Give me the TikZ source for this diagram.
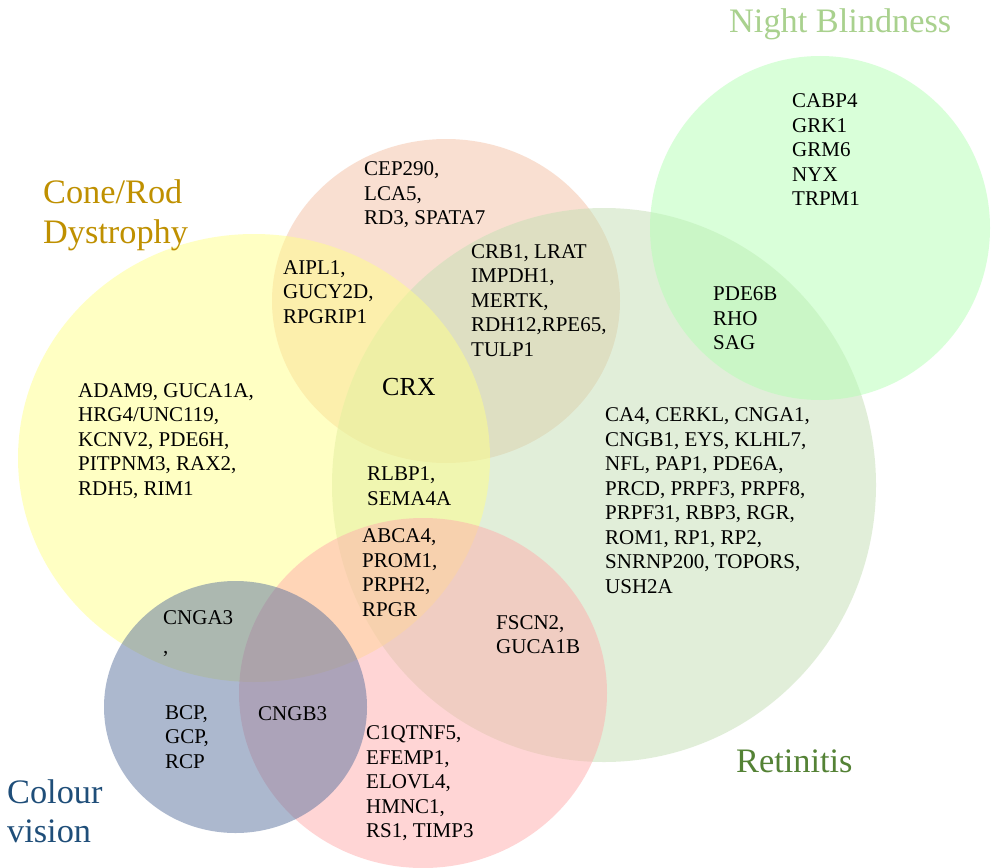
\documentclass[tikz,border=0pt]{standalone}
\usepackage{fontspec}
\setmainfont{Liberation Serif}
\definecolor{cPeach}{RGB}{245,193,165}
\definecolor{cGreen}{RGB}{197,223,181}
\definecolor{cNight}{RGB}{181,255,181}
\definecolor{cYellow}{RGB}{255,255,137}
\definecolor{cPink}{RGB}{255,173,173}
\definecolor{cBlue}{RGB}{91,115,159}
\definecolor{tGold}{RGB}{191,144,0}
\definecolor{tLight}{RGB}{169,209,142}
\definecolor{tGreen}{RGB}{84,130,53}
\definecolor{tBlue}{RGB}{31,78,121}
\tikzset{
  setc/.style={draw=none, fill=#1, fill opacity=0.5},
  gene/.style={anchor=base west, inner sep=0pt, align=left, text=black,
    font=\fontsize{21}{24.5}\selectfont},
  biglab/.style={anchor=base west, inner sep=0pt, align=left,
    font=\fontsize{34.3}{40}\selectfont},
}
\begin{document}
\begin{tikzpicture}[x=1pt,y=-1pt]
\useasboundingbox (0,0) rectangle (995,867);
\fill[white] (0,0) rectangle (995,867);
% sets
\path[setc=cPeach] (446,301) ellipse [x radius=174pt, y radius=162pt];
\path[setc=cGreen] (604,485) ellipse [x radius=272pt, y radius=277pt];
\path[setc=cNight] (820,228) ellipse [x radius=170pt, y radius=172pt];
\path[setc=cYellow] (254,458) ellipse [x radius=236pt, y radius=224pt];
\path[setc=cPink] (423,693) ellipse [x radius=184pt, y radius=175pt];
\path[setc=cBlue] (235.5,707) ellipse [x radius=131.5pt, y radius=126pt];
% big labels (anchor = baseline of last line)
\node[biglab, text=tGold] (lcone) at (43,243) {Cone/Rod\\Dystrophy};
\node[biglab, text=tLight] (lnight) at (729,33) {Night Blindness};
\node[biglab, text=tGreen] (lret) at (736,772) {Retinitis};
\node[biglab, text=tBlue, font=\fontsize{34.3}{39}\selectfont] (lcol) at (7,842) {Colour\\vision};
% genes (anchor = baseline of last line)
\node[gene] (g1) at (364,224.5) {CEP290,\\LCA5,\\RD3, SPATA7};
\node[gene] (g2) at (283,323) {AIPL1,\\GUCY2D,\\RPGRIP1};
\node[gene] (g3) at (471,356) {CRB1, LRAT\\IMPDH1,\\MERTK,\\RDH12,RPE65,\\TULP1};
\node[gene] (g4) at (78,495) {ADAM9, GUCA1A,\\HRG4/UNC119,\\KCNV2, PDE6H,\\PITPNM3, RAX2,\\RDH5, RIM1};
\node[gene, font=\fontsize{26}{30}\selectfont] (g5) at (382,395) {CRX};
\node[gene] (g6) at (367,505) {RLBP1,\\SEMA4A};
\node[gene] (g7) at (605,593) {CA4, CERKL, CNGA1,\\CNGB1, EYS, KLHL7,\\NFL, PAP1, PDE6A,\\PRCD, PRPF3, PRPF8,\\PRPF31, RBP3, RGR,\\ROM1, RP1, RP2,\\SNRNP200, TOPORS,\\USH2A};
\node[gene] (g8) at (362,616) {ABCA4,\\PROM1,\\PRPH2,\\RPGR};
\node[gene] (g9) at (496,653.5) {FSCN2,\\GUCA1B};
\node[gene] (g10) at (366,837.5) {C1QTNF5,\\EFEMP1,\\ELOVL4,\\HMNC1,\\RS1, TIMP3};
\node[gene, font=\fontsize{21}{29}\selectfont] (g11) at (163,653) {CNGA3\\,};
\node[gene] (g12) at (165,768) {BCP,\\GCP,\\RCP};
\node[gene] (g13) at (258,720) {CNGB3};
\node[gene] (g14) at (792,205.5) {CABP4\\GRK1\\GRM6\\NYX\\TRPM1};
\node[gene] (g15) at (713,349.5) {PDE6B\\RHO\\SAG};
\end{tikzpicture}
\end{document}
